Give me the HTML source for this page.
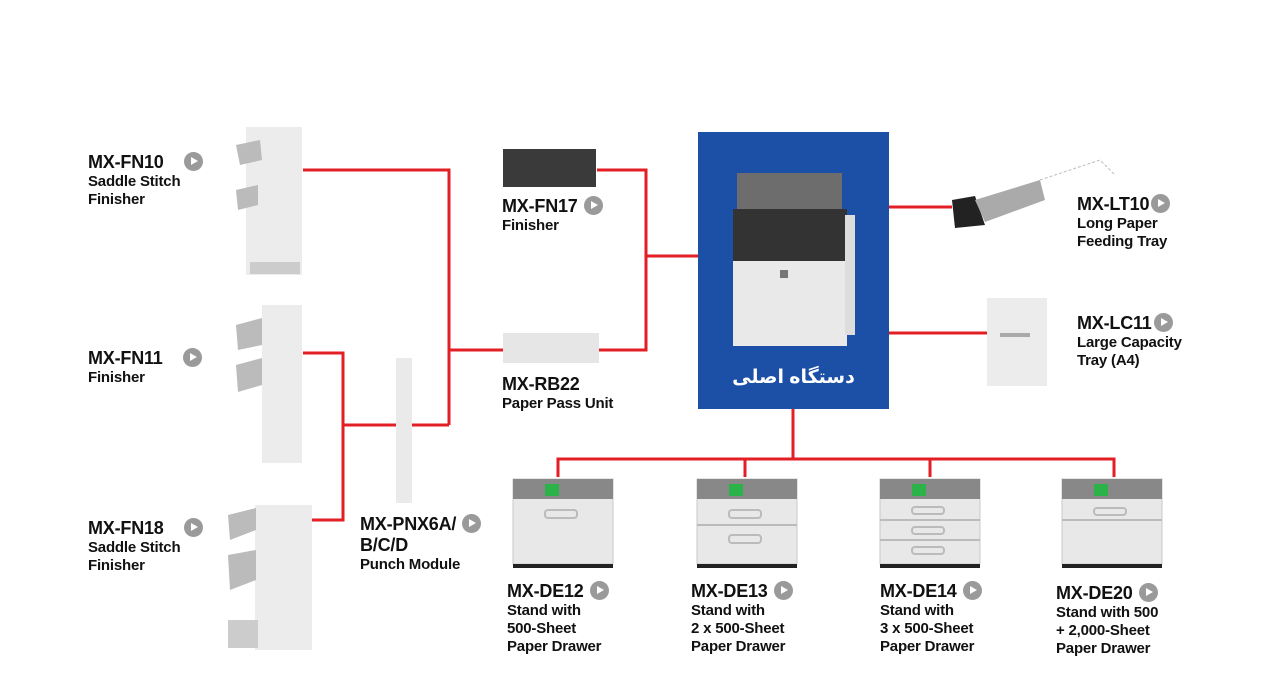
<!DOCTYPE html>
<html><head><meta charset="utf-8"><style>
body{margin:0;width:1280px;height:700px;background:#fff;position:relative;overflow:hidden;font-family:"Liberation Sans Narrow","Liberation Sans",sans-serif;}
.l{position:absolute;color:#111;font-weight:bold;line-height:18px;font-size:15px;letter-spacing:-0.2px}
.l b{font-size:18px;display:inline-block;line-height:20px}
.p{display:inline-block;width:19px;height:19px;border-radius:50%;background:#9a9a9a;position:relative;vertical-align:-3px;margin-left:6px}
.p:after{content:"";position:absolute;left:7px;top:5px;border-left:7px solid #fff;border-top:4.5px solid transparent;border-bottom:4.5px solid transparent}
svg{position:absolute;left:0;top:0}
</style></head><body>
<svg width="1280" height="700">
<g stroke="#e31e24" stroke-width="3" fill="none">
<polyline points="303,170 449,170 449,425"/>
<polyline points="449,350 505,350"/>
<polyline points="303,353 343,353 343,520 303,520"/>
<polyline points="343,425 449,425"/>
<polyline points="597,170 646,170 646,350 597,350"/>
<polyline points="646,256 698,256"/>
<polyline points="889,207 952,207"/>
<polyline points="889,333 987,333"/>
<polyline points="793,409 793,459"/>
<polyline points="558,477 558,459 1114,459 1114,477"/>
<polyline points="745,459 745,477"/>
<polyline points="930,459 930,477"/>
</g>
<rect x="698" y="132" width="191" height="277" fill="#1c4fa6"/>
<!-- main printer -->
<rect x="737" y="173" width="105" height="36" fill="#6d6d6d"/>
<rect x="733" y="209" width="114" height="52" fill="#333"/>
<rect x="733" y="261" width="114" height="85" fill="#e9e9e9"/>
<rect x="780" y="270" width="8" height="8" fill="#777"/>
<rect x="845" y="215" width="10" height="120" fill="#ddd"/>
<!-- FN10 -->
<rect x="246" y="127" width="56" height="148" fill="#ececec"/>
<polygon points="236,145 260,140 262,160 240,165" fill="#bbb"/>
<polygon points="236,190 258,185 258,205 238,210" fill="#bbb"/>
<rect x="250" y="262" width="50" height="12" fill="#ccc"/>
<!-- FN11 -->
<rect x="262" y="305" width="40" height="158" fill="#ececec"/>
<polygon points="236,325 262,318 262,345 238,350" fill="#bbb"/>
<polygon points="236,365 262,358 262,385 238,392" fill="#bbb"/>
<!-- FN18 -->
<rect x="255" y="505" width="57" height="145" fill="#ececec"/>
<polygon points="228,515 256,508 256,530 230,540" fill="#bbb"/>
<polygon points="228,555 256,550 256,580 230,590" fill="#bbb"/>
<rect x="228" y="620" width="30" height="28" fill="#ccc"/>
<!-- punch -->
<rect x="396" y="358" width="16" height="145" fill="#eaeaea"/>
<!-- FN17 -->
<rect x="503" y="149" width="93" height="38" fill="#3a3a3a"/>
<!-- RB22 -->
<rect x="503" y="333" width="96" height="30" fill="#e6e6e6"/>
<!-- LT10 -->
<polygon points="952,200 975,196 985,225 955,228" fill="#222"/>
<polygon points="975,200 1040,180 1045,200 985,222" fill="#aaa"/>
<polyline points="1040,180 1100,160 1115,175" stroke="#bbb" stroke-dasharray="3,2" fill="none"/>
<!-- LC11 -->
<rect x="987" y="298" width="60" height="88" fill="#ececec"/>
<rect x="1000" y="333" width="30" height="4" fill="#aaa"/>
<!-- drawers -->
<g fill="#e8e8e8" stroke="#c8c8c8">
<rect x="513" y="479" width="100" height="85"/>
<rect x="697" y="479" width="100" height="85"/>
<rect x="880" y="479" width="100" height="85"/>
<rect x="1062" y="479" width="100" height="85"/>
</g>
<g fill="#888"><rect x="513" y="479" width="100" height="20"/><rect x="697" y="479" width="100" height="20"/><rect x="880" y="479" width="100" height="20"/><rect x="1062" y="479" width="100" height="20"/></g>
<g fill="#2bb34a"><rect x="545" y="484" width="14" height="12"/><rect x="729" y="484" width="14" height="12"/><rect x="912" y="484" width="14" height="12"/><rect x="1094" y="484" width="14" height="12"/></g>
<g stroke="#bbb" stroke-width="2" fill="none">
<rect x="545" y="510" width="32" height="8" rx="3"/>
<rect x="729" y="510" width="32" height="8" rx="3"/><line x1="697" y1="525" x2="797" y2="525"/><rect x="729" y="535" width="32" height="8" rx="3"/>
<rect x="912" y="507" width="32" height="7" rx="3"/><line x1="880" y1="520" x2="980" y2="520"/><rect x="912" y="527" width="32" height="7" rx="3"/><line x1="880" y1="540" x2="980" y2="540"/><rect x="912" y="547" width="32" height="7" rx="3"/>
<rect x="1094" y="508" width="32" height="7" rx="3"/><line x1="1062" y1="520" x2="1162" y2="520"/>
</g>
<g fill="#222"><rect x="513" y="564" width="100" height="4"/><rect x="697" y="564" width="100" height="4"/><rect x="880" y="564" width="100" height="4"/><rect x="1062" y="564" width="100" height="4"/></g>
</svg>
<div style="position:absolute;left:698px;top:366px;width:191px;text-align:center;color:#fff;font-weight:bold;font-size:19px;font-family:'Liberation Sans','Noto Sans CJK SC','DejaVu Sans',sans-serif" dir="rtl">دستگاه اصلی</div>
<div class="l" style="left:88px;top:152px"><b>MX-FN10</b><span class="p" style="margin-left:20px"></span><br>Saddle Stitch<br>Finisher</div>
<div class="l" style="left:88px;top:348px"><b>MX-FN11</b><span class="p" style="margin-left:20px"></span><br>Finisher</div>
<div class="l" style="left:88px;top:518px"><b>MX-FN18</b><span class="p" style="margin-left:20px"></span><br>Saddle Stitch<br>Finisher</div>
<div class="l" style="left:502px;top:196px"><b>MX-FN17</b><span class="p"></span><br>Finisher</div>
<div class="l" style="left:502px;top:374px"><b>MX-RB22</b><br>Paper Pass Unit</div>
<div class="l" style="left:360px;top:514px"><b>MX-PNX6A/</b><span class="p"></span><br><b>B/C/D</b><br>Punch Module</div>
<div class="l" style="left:1077px;top:194px"><b>MX-LT10</b><span class="p" style="margin-left:2px"></span><br>Long Paper<br>Feeding Tray</div>
<div class="l" style="left:1077px;top:313px"><b>MX-LC11</b><span class="p" style="margin-left:2px"></span><br>Large Capacity<br>Tray (A4)</div>
<div class="l" style="left:507px;top:581px"><b>MX-DE12</b><span class="p"></span><br>Stand with<br>500-Sheet<br>Paper Drawer</div>
<div class="l" style="left:691px;top:581px"><b>MX-DE13</b><span class="p"></span><br>Stand with<br>2 x 500-Sheet<br>Paper Drawer</div>
<div class="l" style="left:880px;top:581px"><b>MX-DE14</b><span class="p"></span><br>Stand with<br>3 x 500-Sheet<br>Paper Drawer</div>
<div class="l" style="left:1056px;top:583px"><b>MX-DE20</b><span class="p"></span><br>Stand with 500<br>+ 2,000-Sheet<br>Paper Drawer</div>
</body></html>
